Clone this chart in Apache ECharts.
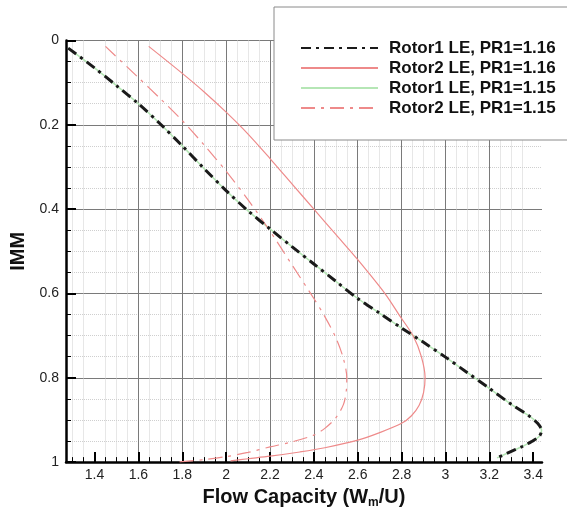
<!DOCTYPE html>
<html>
<head>
<meta charset="utf-8">
<script src="https://cdn.jsdelivr.net/npm/echarts@6/dist/echarts.min.js"></script>
<style>
  html, body { margin: 0; padding: 0; background: #fff; }
  #chart { width: 567px; height: 514px; }
</style>
</head>
<body>
<div id="chart"></div>
<script>
// Values (x = flow capacity, y = IMM)
const rotor1x116 = [1.28, 1.4, 1.5, 1.6, 1.7, 1.8, 1.9, 2.0, 2.1, 2.2, 2.3, 2.4, 2.5, 2.6, 2.7, 2.8, 2.9, 3.0, 3.1, 3.2, 3.3, 3.38, 3.42, 3.438, 3.426, 3.39, 3.35, 3.29, 3.235];
const rotor1y116 = [0.018, 0.065, 0.107, 0.15, 0.198, 0.25, 0.304, 0.356, 0.404, 0.447, 0.489, 0.53, 0.571, 0.612, 0.647, 0.682, 0.716, 0.751, 0.788, 0.825, 0.863, 0.89, 0.908, 0.925, 0.94, 0.952, 0.963, 0.977, 0.99];

// PR1=1.15 rotor1 curve lies right under the 1.16 one
const rotor1x115 = rotor1x116;
const rotor1y115 = rotor1y116;

const rotor2x116 = [1.647, 1.8, 1.9, 2.0, 2.1, 2.2, 2.3, 2.4, 2.5, 2.6, 2.725, 2.79, 2.854, 2.89, 2.907, 2.9, 2.88, 2.845, 2.8, 2.7, 2.6, 2.45, 2.336, 2.2, 2.1, 2.02];
const rotor2y116 = [0.014, 0.078, 0.122, 0.17, 0.222, 0.28, 0.34, 0.40, 0.46, 0.52, 0.601, 0.652, 0.702, 0.75, 0.80, 0.835, 0.865, 0.89, 0.908, 0.93, 0.948, 0.966, 0.976, 0.986, 0.992, 0.997];

const rotor2x115 = [1.45, 1.6, 1.7, 1.8, 1.9, 2.0, 2.1, 2.2, 2.3, 2.4, 2.45, 2.5, 2.535, 2.55, 2.548, 2.535, 2.5, 2.45, 2.4, 2.3, 2.2, 2.1, 2.0, 1.9, 1.84, 1.78];
const rotor2y115 = [0.014, 0.088, 0.138, 0.19, 0.248, 0.31, 0.378, 0.452, 0.532, 0.612, 0.655, 0.705, 0.755, 0.80, 0.83, 0.863, 0.895, 0.92, 0.936, 0.952, 0.964, 0.977, 0.987, 0.994, 0.997, 1.0];

const xTicks = [1.4, 1.6, 1.8, 2.0, 2.2, 2.4, 2.6, 2.8, 3.0, 3.2, 3.4];
const seriesNames = ['Rotor1 LE, PR1=1.16', 'Rotor2 LE, PR1=1.16', 'Rotor1 LE, PR1=1.15', 'Rotor2 LE, PR1=1.15'];

const pairs = (xs, ys) => xs.map((x, i) => [x, ys[i]]);
const font = "'Liberation Sans', Arial, sans-serif";

const chart = echarts.init(document.getElementById('chart'), null, { renderer: 'canvas' });

const axisCommon = {
    type: 'value',
    axisLine: { show: true, onZero: false, lineStyle: { color: '#000', width: 2.5 } },
    axisTick: { show: true, inside: true, length: 10, lineStyle: { color: '#000', width: 2 } },
    minorTick: { show: true, splitNumber: 4, length: 5, lineStyle: { color: '#000', width: 1 } },
    splitLine: { show: true, lineStyle: { color: '#7a7a7a', width: 1 } },
    minorSplitLine: { show: true, lineStyle: { color: '#cfcfcf', width: 1, type: 'dotted' } },
    axisLabel: { color: '#222', fontSize: 14, fontFamily: font },
    nameLocation: 'middle',
    nameTextStyle: { color: '#111', fontSize: 20, fontWeight: 'bold', fontFamily: font },
};

chart.setOption({
    backgroundColor: '#fff',
    animation: false,
    grid: { left: 66, right: 25, top: 40.5, bottom: 41.5, containLabel: false },
    xAxis: {
        ...axisCommon,
        position: 'bottom',
        min: 1.27,
        max: 3.44,
        minInterval: 0.2,
        maxInterval: 0.2,
        axisTick: { ...axisCommon.axisTick, customValues: xTicks },
        axisLabel: { ...axisCommon.axisLabel, customValues: xTicks, margin: 6 },
        splitLine: { ...axisCommon.splitLine, showMinLine: false, showMaxLine: false },
        name: '{a|Flow Capacity (W}{s|m}{a|/U)}',
        nameGap: 18,
        nameTextStyle: {
            ...axisCommon.nameTextStyle,
            rich: {
                a: { fontSize: 20, fontWeight: 'bold', fontFamily: font, color: '#111', lineHeight: 24 },
                s: { fontSize: 12, fontWeight: 'bold', fontFamily: font, color: '#111', lineHeight: 24, verticalAlign: 'bottom', padding: [10, 0, 0, 0] },
            },
        },
    },
    yAxis: {
        ...axisCommon,
        position: 'left',
        min: 0,
        max: 1,
        interval: 0.2,
        inverse: true,
        axisLabel: { ...axisCommon.axisLabel, margin: 7 },
        splitLine: { ...axisCommon.splitLine, showMaxLine: false },
        name: 'IMM',
        nameGap: 35,
    },
    legend: {
        orient: 'vertical',
        left: 274,
        top: 7,
        padding: [31, 40, 22, 26],
        itemGap: 0,
        itemWidth: 77,
        itemHeight: 20,
        backgroundColor: '#fff',
        borderColor: '#8a8a8a',
        borderWidth: 1,
        selectedMode: false,
        data: seriesNames,
        itemStyle: { opacity: 0 },
        textStyle: { color: '#111', fontSize: 17, fontWeight: 'bold', fontFamily: font, lineHeight: 20, padding: [0, 0, 0, 6] },
    },
    series: [
        {
            name: seriesNames[2],
            type: 'line',
            data: pairs(rotor1x115, rotor1y115),
            smooth: 0.3,
            symbol: 'none',
            z: 2,
            lineStyle: { color: '#b5e6b5', width: 1.5 },
            itemStyle: { color: '#b5e6b5' },
        },
        {
            name: seriesNames[0],
            type: 'line',
            data: pairs(rotor1x116, rotor1y116),
            smooth: 0.3,
            symbol: 'none',
            z: 3,
            lineStyle: { color: '#1a1a1a', width: 3, type: [10, 5, 3, 5] },
            itemStyle: { color: '#1a1a1a' },
        },
        {
            name: seriesNames[1],
            type: 'line',
            data: pairs(rotor2x116, rotor2y116),
            smooth: 0.3,
            symbol: 'none',
            z: 2,
            lineStyle: { color: '#ee8a8a', width: 1.2 },
            itemStyle: { color: '#ee8a8a' },
        },
        {
            name: seriesNames[3],
            type: 'line',
            data: pairs(rotor2x115, rotor2y115),
            smooth: 0.3,
            symbol: 'none',
            z: 2,
            lineStyle: { color: '#ee8a8a', width: 1.2, type: [14, 6, 3, 6] },
            itemStyle: { color: '#ee8a8a' },
        },
    ],
});
</script>
</body>
</html>
